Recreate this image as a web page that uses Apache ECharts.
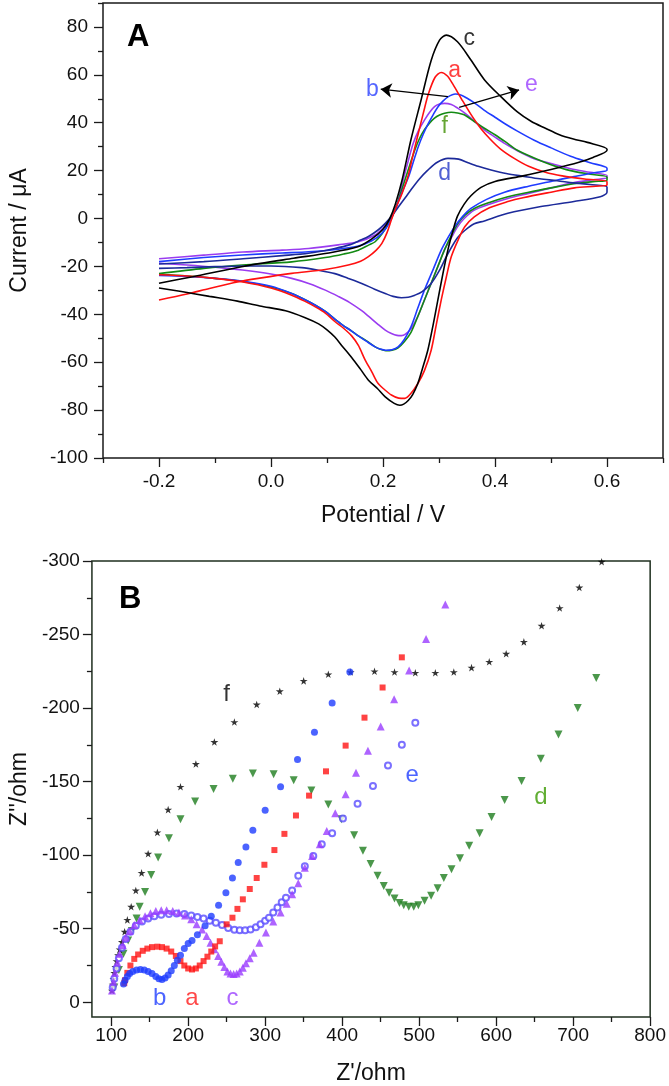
<!DOCTYPE html>
<html><head><meta charset="utf-8">
<script src="https://cdn.jsdelivr.net/npm/echarts@6/dist/echarts.min.js"></script>
<style>html,body{margin:0;padding:0;background:#fff;}#chart{width:669px;height:1086px;}</style>
</head><body><div id="chart"></div>
<script>
// ---------- Panel A : cyclic voltammograms [potential V, current uA] ----------
const cvA = [ // red
[-0.2,-34],[-0.15,-31.5],[-0.11,-29.2],[-0.06,-26.5],[-0.02,-24.9],[0.037,-22.9],[0.097,-21.3],[0.138,-19.4],[0.16,-17.8],[0.174,-15.9],[0.188,-13.2],[0.198,-10.4],[0.207,-6],[0.215,-0.5],[0.224,5],[0.234,10.5],[0.245,18],[0.254,27],[0.263,35.5],[0.272,44],[0.281,52],[0.293,59],[0.304,61],[0.315,59.5],[0.325,56],[0.34,50],[0.357,43.5],[0.375,37.5],[0.392,33],[0.41,29],[0.435,25],[0.46,21.8],[0.49,19.3],[0.52,17.8],[0.56,16.5],[0.6,15.5],
[0.6,14],[0.58,13.5],[0.542,12.8],[0.5,11],[0.45,8.7],[0.423,7.1],[0.39,4.5],[0.363,0.7],[0.346,-3.4],[0.334,-9],[0.322,-15.9],[0.313,-24.5],[0.304,-34],[0.295,-44.5],[0.286,-55],[0.274,-63.5],[0.262,-69],[0.25,-73],[0.239,-75.1],[0.228,-75],[0.215,-73.7],[0.203,-71.5],[0.191,-68.8],[0.18,-64],[0.168,-59],[0.156,-53],[0.144,-49],[0.128,-45.5],[0.114,-43],[0.097,-39.5],[0.08,-37],[0.06,-34.5],[0.037,-32],[0,-29],[-0.05,-26.5],[-0.1,-25],[-0.15,-24],[-0.2,-23.5]];
const cvB = [ // blue
[-0.2,-18],[-0.12,-16.3],[-0.051,-15.2],[0.02,-14.4],[0.067,-13.9],[0.12,-12.8],[0.156,-11.5],[0.18,-9.3],[0.198,-6.2],[0.212,-1.5],[0.222,4],[0.234,11],[0.245,17],[0.254,23.5],[0.263,30],[0.272,35.3],[0.281,39.7],[0.29,43.5],[0.298,46.6],[0.307,49],[0.316,50.8],[0.329,52],[0.34,51.5],[0.351,50.1],[0.365,48],[0.381,45.2],[0.4,42.3],[0.417,39.7],[0.44,36.5],[0.47,32.7],[0.5,29.5],[0.535,26],[0.57,23.3],[0.6,21],
[0.6,20.2],[0.58,19.2],[0.541,17.5],[0.5,15.5],[0.46,13.5],[0.417,11],[0.385,8],[0.357,4.2],[0.342,0.8],[0.328,-3.4],[0.316,-8],[0.304,-13.2],[0.29,-21],[0.274,-29.9],[0.262,-37.5],[0.25,-45.2],[0.238,-50.5],[0.227,-53.6],[0.216,-54.8],[0.205,-55],[0.195,-54.5],[0.186,-53.6],[0.17,-51.2],[0.156,-49],[0.144,-47],[0.128,-44.5],[0.114,-42],[0.097,-38.8],[0.08,-36.3],[0.06,-33.8],[0.037,-31.3],[0,-28.3],[-0.05,-26.2],[-0.1,-25],[-0.15,-24.2],[-0.2,-23.8]];
const cvC = [ // black
[-0.2,-27],[-0.14,-24.3],[-0.05,-20],[0.04,-16.6],[0.1,-14.5],[0.155,-11.8],[0.18,-8.5],[0.2,-4.5],[0.212,0],[0.222,6],[0.234,16],[0.25,33],[0.268,49.5],[0.286,66],[0.301,74.5],[0.313,76.6],[0.333,73.8],[0.357,66.2],[0.381,58],[0.41,51],[0.44,44.5],[0.465,40.5],[0.49,37.7],[0.515,35],[0.54,33.2],[0.565,31.8],[0.6,29],
[0.6,28.5],[0.575,25.5],[0.55,23.5],[0.5,20.5],[0.45,17.8],[0.4,15.5],[0.375,13],[0.357,9.5],[0.345,6],[0.333,1],[0.325,-5],[0.316,-13],[0.307,-23],[0.298,-34],[0.289,-45],[0.28,-55],[0.27,-63],[0.262,-69],[0.253,-73.5],[0.245,-76],[0.237,-77.5],[0.23,-78],[0.22,-77.2],[0.204,-74.5],[0.19,-71],[0.174,-67.5],[0.16,-63],[0.144,-58],[0.128,-53.5],[0.114,-49.5],[0.1,-46.5],[0.085,-44],[0.06,-41.3],[0.026,-38.5],[-0.02,-36.5],[-0.06,-34.5],[-0.11,-32.5],[-0.16,-30.5],[-0.2,-29]];
const cvD = [ // navy
[-0.2,-19],[-0.12,-18],[-0.05,-16.8],[0.02,-15.5],[0.067,-14.5],[0.114,-12.5],[0.14,-11],[0.16,-9],[0.174,-7.5],[0.19,-5],[0.204,-2],[0.215,0.8],[0.228,5],[0.24,8.8],[0.25,12],[0.265,16.5],[0.28,20.2],[0.297,23.5],[0.316,25.1],[0.335,24.8],[0.352,23.3],[0.37,21.8],[0.393,20.3],[0.42,18.8],[0.452,17.6],[0.48,16.6],[0.511,15.8],[0.54,14.9],[0.57,14.2],[0.6,13.2],
[0.6,11],[0.588,9.1],[0.541,7.1],[0.482,5],[0.423,2.2],[0.381,-1],[0.363,-2.2],[0.346,-5],[0.333,-8],[0.316,-14.6],[0.3,-22],[0.286,-27.1],[0.27,-30.5],[0.257,-32],[0.245,-32.9],[0.233,-33.1],[0.218,-32.5],[0.204,-31.3],[0.185,-29.5],[0.162,-27.1],[0.138,-25],[0.114,-23],[0.085,-21.6],[0.055,-20.5],[0,-19.8],[-0.05,-19.8],[-0.1,-20.1],[-0.15,-20.5],[-0.2,-20.8]];
const cvE = [ // purple
[-0.2,-16.8],[-0.12,-15.3],[-0.05,-14],[0.02,-13.2],[0.067,-12.5],[0.12,-11],[0.156,-9.7],[0.186,-6.9],[0.2,-4],[0.212,-0.3],[0.222,3.5],[0.229,9],[0.236,16.1],[0.245,24],[0.254,31.4],[0.264,37],[0.274,41.1],[0.283,44.3],[0.292,46.7],[0.301,47.8],[0.31,48.1],[0.322,47.6],[0.334,46],[0.345,44.2],[0.357,41.9],[0.381,37],[0.4,34],[0.417,31.4],[0.44,28.3],[0.47,25],[0.5,23],[0.535,20.8],[0.57,19.3],[0.6,18],
[0.6,17],[0.575,16.2],[0.541,15],[0.5,12.8],[0.46,10.5],[0.423,8.4],[0.39,6],[0.363,3.5],[0.345,0],[0.333,-3.5],[0.322,-8],[0.31,-13],[0.298,-20],[0.286,-27.1],[0.274,-34],[0.262,-41],[0.25,-46],[0.24,-48.3],[0.233,-48.9],[0.225,-48.8],[0.215,-48],[0.204,-46.6],[0.19,-44],[0.175,-41],[0.162,-38.5],[0.14,-35],[0.12,-32.5],[0.097,-29.9],[0.07,-27.3],[0.037,-25],[0,-23.2],[-0.051,-21.5],[-0.1,-20.3],[-0.15,-19.4],[-0.2,-18.7]];
const cvF = [ // green
[-0.2,-23],[-0.12,-20.8],[-0.051,-19.4],[0.037,-18.1],[0.097,-16.3],[0.13,-14.8],[0.156,-13.2],[0.175,-11],[0.186,-9.7],[0.198,-6.5],[0.21,-2],[0.222,4],[0.23,9.5],[0.239,16],[0.248,22.5],[0.257,28.7],[0.265,33.3],[0.274,37.1],[0.283,39.8],[0.292,41.9],[0.301,43.2],[0.31,44],[0.322,44.4],[0.333,44.1],[0.345,43.3],[0.363,40.5],[0.381,37.7],[0.4,35],[0.417,32.3],[0.44,28.5],[0.47,25.3],[0.5,22.5],[0.535,20],[0.57,18.5],[0.6,17.3],
[0.6,16],[0.575,15.4],[0.541,14.5],[0.5,12.8],[0.46,11],[0.423,9.1],[0.39,6.7],[0.363,4.2],[0.347,1.5],[0.334,-2],[0.322,-7],[0.31,-13],[0.298,-20],[0.286,-27],[0.274,-34],[0.262,-41],[0.25,-47.5],[0.238,-51.5],[0.227,-54],[0.216,-55],[0.205,-55.2],[0.195,-54.6],[0.186,-53.6],[0.17,-51],[0.156,-49],[0.144,-47],[0.128,-44.5],[0.114,-42],[0.097,-38.8],[0.08,-36.3],[0.06,-33.8],[0.037,-31.3],[0,-28.6],[-0.05,-26.3],[-0.1,-25],[-0.15,-24],[-0.2,-23.3]];
const labelsA = [['c',0.354,75.2],['a',0.328,61.7],['b',0.181,53.7],['e',0.465,55.7],['f',0.31,38.3],['d',0.31,18.9]];
const arrowsA = [[[0.316,50.9],[0.196,54]],[[0.336,46.4],[0.443,53.7]]];
const tickAxMajor = [-0.2,0,0.2,0.4,0.6];
const tickAxMinor = [-0.3,-0.1,0.1,0.3,0.5,0.7];
const tickAyMajor = [-100,-80,-60,-40,-20,0,20,40,60,80];
const tickAyMinor = [-90,-70,-50,-30,-10,10,30,50,70,90];

// ---------- Panel B : Nyquist plots [Z' ohm, Z'' ohm] ----------
const eisA = [[117,-13],[118,-15],[121,-20],[125,-25],[130,-29.5],[135,-32.5],[141,-35],[147,-36.5],[153,-37.5],[160,-37.8],[166,-37.5],[172,-36.5],[178,-34.5],[184,-31.5],[190,-28],[195,-25],[200,-23],[205,-22.3],[210,-23],[215,-25],[220,-28],[225,-31],[230,-34.5],[235,-38],[241,-41.5],[250,-53],[257.5,-57.5],[264,-63.5],[271,-70],[280,-77],[289,-84.5],[299,-93.5],[312,-103.5],[325,-114.5],[340,-127],[357,-140.5],[379,-157],[404.5,-174.5],[429,-193.5],[452.5,-214],[477.5,-234.5]];
const eisB = [[116,-12.5],[118,-15],[121,-17.5],[124,-19.5],[128,-21],[133,-22],[138,-22.3],[143,-22],[148,-21],[153,-19.5],[158,-17.5],[162,-16],[166,-15.5],[170,-16.5],[174,-18.5],[178,-21.5],[182,-25],[186,-28.5],[190,-32],[195,-36.5],[200,-40],[205,-42],[212,-46],[222,-52],[230,-58.5],[239.5,-66],[249,-74.5],[257.5,-84.5],[265,-95],[275,-105.5],[284,-117],[300,-130.5],[320,-146.5],[342,-165],[364,-183.5],[387,-203.5],[410,-224.5]];
const eisC = [[101,-8],[103,-14],[105,-20],[108,-27],[111,-33],[115,-39],[119,-44],[124,-48.5],[130,-52.5],[137,-56],[144,-58.5],[151,-60.5],[158,-62],[165,-62.5],[172,-62.5],[180,-62],[188,-61],[196,-59],[204,-56.5],[211,-53],[218,-49.5],[224,-45],[229,-40.5],[234,-36],[239,-31.5],[243,-27.5],[247,-24],[251,-21],[255,-19.5],[259,-19.3],[263,-19.5],[267,-21],[271,-23.5],[275,-26.5],[280,-30],[285,-33.6],[292.5,-40.4],[301,-47.5],[310.5,-55],[320,-61],[328,-67],[335,-73.5],[343,-81],[351.5,-91.5],[361,-99.5],[371,-107.5],[380,-116.5],[391,-128.5],[404.5,-141.5],[418,-156],[433.5,-171],[450,-187.5],[467.5,-206],[487,-225.5],[509,-247],[534,-270.5]];
const eisD = [[104,-10],[110,-22],[116,-33],[122,-42],[127,-48.5],[133,-57],[137,-65],[144,-75],[152,-86.5],[161,-98.5],[175,-111.5],[190,-124.5],[209,-136.5],[233,-145],[258,-152],[284,-155.5],[311,-155],[337,-151],[360,-144],[382,-134.5],[399,-124.5],[415.5,-113.5],[427,-103],[437,-94],[446,-86],[454,-79],[461,-74.5],[468,-70.5],[474.5,-67.5],[480,-66],[486.5,-65],[493,-65],[499,-66],[507,-69],[515.5,-72.5],[524,-77.5],[532,-84.5],[542,-90.5],[553,-98],[565,-106.5],[578.5,-115],[594,-126],[611,-137.5],[633,-150.5],[658,-165.5],[681,-182],[706,-200],[730,-220.5]];
const eisE = [[102,-10],[104,-16],[107,-23],[110,-30],[114,-37],[119,-43],[125,-48],[132,-52],[140,-55],[148,-57],[156,-58.5],[165,-59.5],[175,-60],[185,-60.3],[195,-60],[204,-59],[212,-58],[220,-57],[228,-55.5],[236,-54],[244,-52.5],[252,-50.5],[260,-49.3],[267,-49],[274,-49],[281,-49.5],[288,-51],[294,-53],[300,-55.5],[305,-57.5],[310.5,-61],[316,-64.5],[321.5,-68],[327,-71],[335,-76],[343,-86],[351.5,-92.5],[362.5,-99.5],[373.5,-107.5],[387,-115],[401,-125],[420,-135],[440,-147],[459.5,-161],[477.5,-175],[495,-190]];
const eisF = [[101,-8],[102,-12],[103,-16],[104,-20],[105.5,-24],[107,-28],[109,-32],[111,-36],[114,-41],[117.5,-48],[121,-56],[126,-65],[132,-76],[139.5,-88],[148,-101],[160,-115.5],[174,-131],[190,-146.5],[210,-162],[234,-177],[260,-190.5],[289,-202.5],[319,-211.5],[350,-218.5],[382,-223],[411,-224.5],[442,-225],[468,-224.5],[495,-224],[521,-224],[545,-224.5],[568,-227.5],[591,-231.5],[613,-237],[636,-245],[659,-256],[682.5,-268],[708,-282],[737,-299.5]];
const labelsB = [['f',250,-209],['e',491,-154.5],['d',658,-139],['b',163,-3],['a',205,-3],['c',257.5,-3]];
const tickBxMajor = [100,200,300,400,500,600,700,800];
const tickBxMinor = [150,250,350,450,550,650,750];
const tickByMajor = [-300,-250,-200,-150,-100,-50,0];
const tickByMinor = [-275,-225,-175,-125,-75,-25];

// ---------- styling ----------
const FONT = 'Liberation Sans, Arial, Helvetica, sans-serif';
const AX = '#1a1a1a';
const colA = {a:'#ff1010', b:'#1f3cff', c:'#000000', d:'#1c2a9a', e:'#9a3cf0', f:'#138a13'};
const labColA = {a:'#ff1010', b:'#2a40ff', c:'#000000', d:'#2438c8', e:'#9a40ff', f:'#3f8f00'};
const labColB = {a:'#ff1a1a', b:'#1f3dff', c:'#9a40ff', d:'#3a9a00', e:'#1f3dff', f:'#000000'};
const star = 'path://M50,0 L61,35 L98,35 L68,57 L79,91 L50,70 L21,91 L32,57 L2,35 L39,35 Z';

function mkAxis(gi, dim, min, max, major, minor, fmt, extra, isMinor) {
  const base = {
    gridIndex: gi, type: 'value', min: min, max: max, scale: true,
    splitLine: {show: false}, axisLine: {show: false, onZero: false},
    position: dim === 'x' ? 'bottom' : 'left'
  };
  if (isMinor) {
    base.axisTick = {show: true, customValues: minor, length: 5, lineStyle: {color: AX, width: 1.3}};
    base.axisLabel = {show: false};
  } else {
    base.axisTick = {show: true, customValues: major, length: 9, lineStyle: {color: AX, width: 1.3}};
    base.axisLabel = {show: true, customValues: major, formatter: fmt, fontSize: 19, color: '#111', fontFamily: FONT, margin: extra.margin};
    base.name = extra.name; base.nameLocation = 'middle'; base.nameGap = extra.nameGap;
    base.nameTextStyle = {fontSize: 23, color: '#111', fontFamily: FONT};
    if (dim === 'y') base.nameRotate = 90;
  }
  if (extra.inverse) base.inverse = true;
  return base;
}

const fmt1 = v => v.toFixed(1);
const fmt0 = v => String(Math.round(v));

const xAxis = [
  mkAxis(0, 'x', -0.3, 0.7, tickAxMajor, tickAxMinor, fmt1, {margin: 14, name: 'Potential / V', nameGap: 46}, false),
  mkAxis(0, 'x', -0.3, 0.7, tickAxMajor, tickAxMinor, fmt1, {}, true),
  mkAxis(1, 'x', 75, 800, tickBxMajor, tickBxMinor, fmt0, {margin: 9, name: "Z'/ohm", nameGap: 45}, false),
  mkAxis(1, 'x', 75, 800, tickBxMajor, tickBxMinor, fmt0, {}, true)
];
const yAxis = [
  mkAxis(0, 'y', -100, 90, tickAyMajor, tickAyMinor, fmt0, {margin: 15, name: 'Current / \u03bcA', nameGap: 72}, false),
  mkAxis(0, 'y', -100, 90, tickAyMajor, tickAyMinor, fmt0, {}, true),
  mkAxis(1, 'y', -300, 10, tickByMajor, tickByMinor, fmt0, {margin: 12, name: "Z''/ohm", nameGap: 57, inverse: true}, false),
  mkAxis(1, 'y', -300, 10, tickByMajor, tickByMinor, fmt0, {inverse: true}, true)
];

const series = [];
[['e', cvE], ['f', cvF], ['b', cvB], ['d', cvD], ['a', cvA], ['c', cvC]].forEach(([k, d]) => {
  series.push({type: 'line', name: 'cv-' + k, xAxisIndex: 0, yAxisIndex: 0, data: d, showSymbol: false, smooth: 0.3,
    lineStyle: {color: colA[k], width: 1.6}, itemStyle: {color: colA[k]}, z: 3});
});
series.push({type: 'scatter', name: 'labelsA', xAxisIndex: 0, yAxisIndex: 0, symbolSize: 1,
  itemStyle: {color: 'rgba(0,0,0,0)'}, z: 6,
  data: labelsA.map(l => ({value: [l[1], l[2]], name: l[0], label: {show: true, position: 'inside', formatter: l[0], color: labColA[l[0]], fontSize: 23, fontFamily: FONT}})),
  markLine: {silent: true, symbol: ['none', 'arrow'], symbolSize: 11, animation: false,
    lineStyle: {color: '#000', width: 1.3, type: 'solid'}, itemStyle: {color: '#000'}, label: {show: false},
    data: arrowsA.map(a => [{coord: a[0]}, {coord: a[1]}])}
});

const eisSpec = [
  ['d', eisD, 'triangle', 8, 180, '#1e7d1e', false],
  ['f', eisF, star, 8, 0, '#000000', false],
  ['e', eisE, 'emptyCircle', 6, 0, '#5a4cff', true],
  ['c', eisC, 'triangle', 8, 0, '#9a3cff', false],
  ['a', eisA, 'rect', 6, 0, '#ff1414', false],
  ['b', eisB, 'circle', 7, 0, '#1e3cff', false]
];
eisSpec.forEach(([k, d, sym, size, rot, col, empty]) => {
  series.push({type: 'scatter', name: 'eis-' + k, xAxisIndex: 2, yAxisIndex: 2, data: d, symbol: sym, symbolSize: size,
    symbolRotate: rot, symbolKeepAspect: true,
    itemStyle: empty ? {color: col, borderColor: col, borderWidth: 1} : {color: col}, z: 3});
});
series.push({type: 'scatter', name: 'labelsB', xAxisIndex: 2, yAxisIndex: 2, symbolSize: 1,
  itemStyle: {color: 'rgba(0,0,0,0)'}, z: 6,
  data: labelsB.map(l => ({value: [l[1], l[2]], name: l[0], label: {show: true, position: 'inside', formatter: l[0], color: labColB[l[0]], fontSize: 24, fontFamily: FONT}}))
});

const chart = echarts.init(document.getElementById('chart'), null, {renderer: 'canvas'});
chart.setOption({
  animation: false,
  backgroundColor: '#ffffff',
  title: [
    {text: 'A', left: 127, top: 22, padding: 0, textStyle: {fontSize: 31, fontWeight: 'bold', color: '#000', fontFamily: FONT}},
    {text: 'B', left: 119, top: 584, padding: 0, textStyle: {fontSize: 31, fontWeight: 'bold', color: '#000', fontFamily: FONT}}
  ],
  grid: [
    {left: 100, top: 3, width: 563, height: 455, show: true, borderColor: AX, borderWidth: 1.5, backgroundColor: 'transparent'},
    {left: 83, top: 561, width: 570, height: 456, show: true, borderColor: '#1f2f1f', borderWidth: 1.5, backgroundColor: 'transparent'}
  ],
  xAxis: xAxis,
  yAxis: yAxis,
  series: series
});
</script></body></html>
